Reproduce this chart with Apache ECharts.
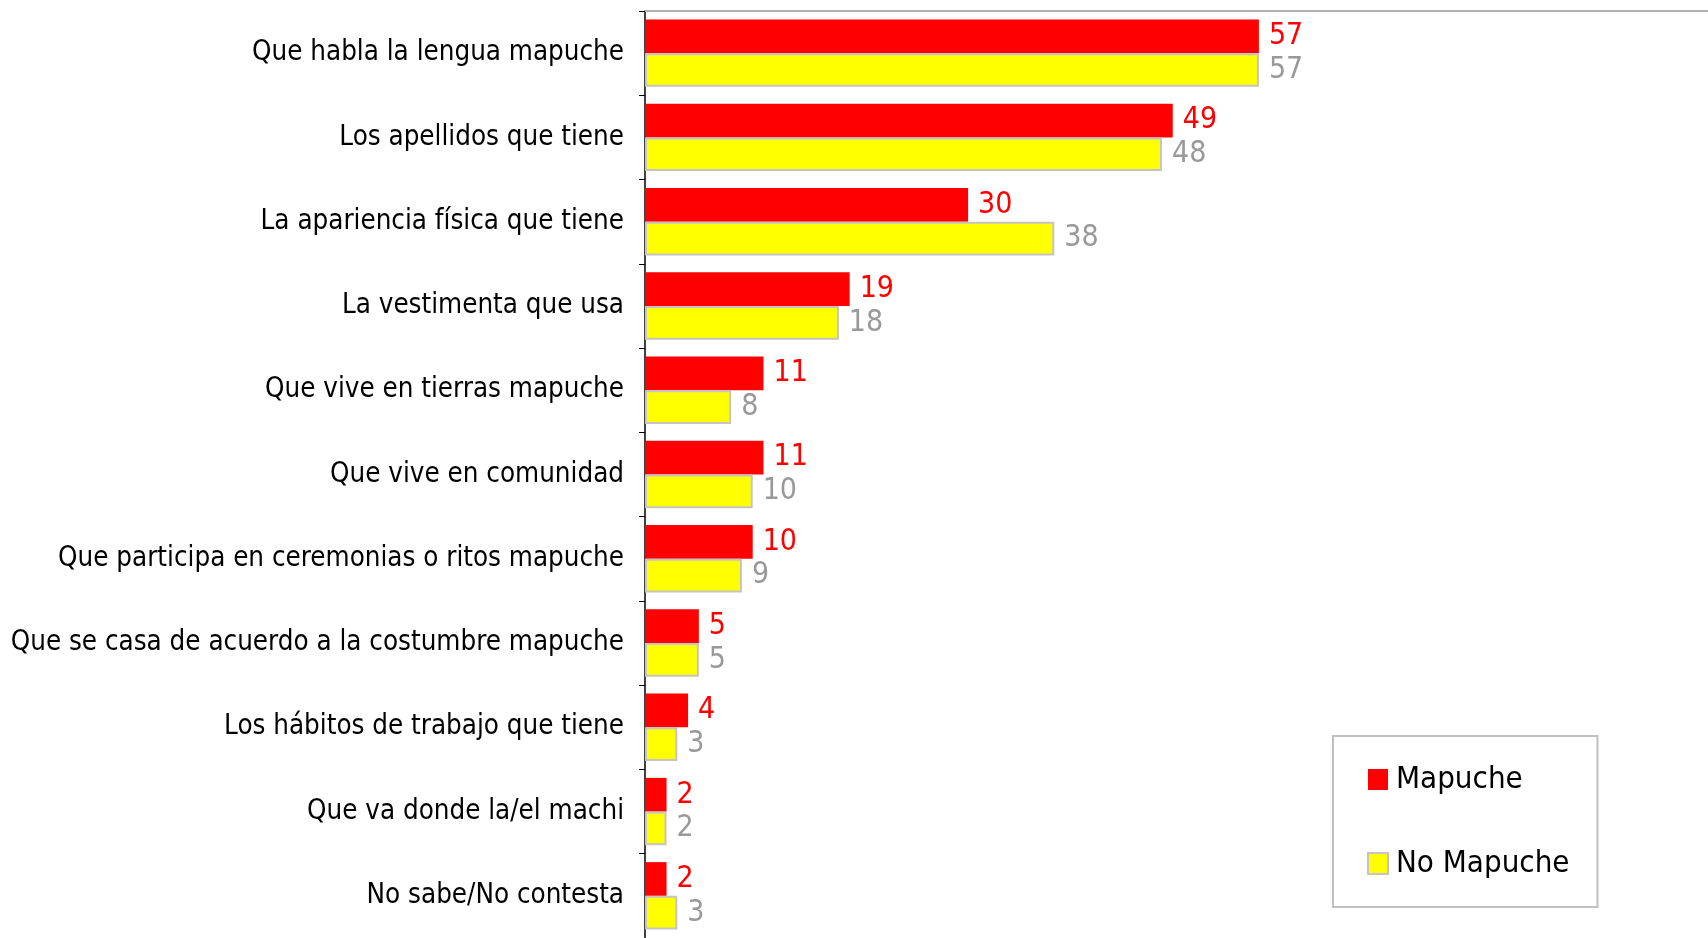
<!DOCTYPE html>
<html>
<head>
<meta charset="utf-8">
<script src="https://cdn.jsdelivr.net/npm/echarts@6/dist/echarts.min.js"></script>
<style>
  html, body { margin: 0; padding: 0; background: #fff; }
  #main { width: 1708px; height: 938px; }
</style>
</head>
<body>
<div id="main"></div>
<script>
// categorias, de arriba hacia abajo
var categories = [
  'Que habla la lengua mapuche',
  'Los apellidos que tiene',
  'La apariencia física que tiene',
  'La vestimenta que usa',
  'Que vive en tierras mapuche',
  'Que vive en comunidad',
  'Que participa en ceremonias o ritos mapuche',
  'Que se casa de acuerdo a la costumbre mapuche',
  'Los hábitos de trabajo que tiene',
  'Que va donde la/el machi',
  'No sabe/No contesta'
];
var mapuche = [57, 49, 30, 19, 11, 11, 10, 5, 4, 2, 2];
var noMapuche = [57, 48, 38, 18, 8, 10, 9, 5, 3, 2, 3];

var font = '"DejaVu Sans Condensed", "Liberation Sans Narrow", "DejaVu Sans", sans-serif';

var chart = echarts.init(document.getElementById('main'));

var option = {
  backgroundColor: '#fff',
  animation: false,
  textStyle: { fontFamily: font },
  grid: {
    left: 645,
    top: 11,
    right: 0,
    height: 933,
    containLabel: false
  },
  legend: {
    orient: 'vertical',
    left: 1333,
    top: 736,
    padding: [28, 28, 28, 34],
    icon: 'rect',
    itemWidth: 20,
    itemHeight: 21,
    itemGap: 53,
    backgroundColor: '#fff',
    borderColor: '#c0c0c0',
    borderWidth: 2,
    textStyle: { fontSize: 31, color: '#000', fontFamily: font, padding: [0, 0, 0, 3] },
    data: ['Mapuche', 'No Mapuche']
  },
  xAxis: {
    type: 'value',
    position: 'top',
    min: 0,
    max: 98.7,
    axisLine: { show: true, lineStyle: { color: '#b0b0b0', width: 2 } },
    axisTick: { show: false },
    axisLabel: { show: false },
    splitLine: { show: false }
  },
  yAxis: {
    type: 'category',
    inverse: true,
    data: categories,
    axisLine: { show: true, lineStyle: { color: '#000', width: 1.5 } },
    axisTick: { show: true, length: 6, lineStyle: { color: '#000' } },
    axisLabel: { fontSize: 27.5, color: '#000', margin: 21, fontFamily: font }
  },
  series: [
    {
      name: 'Mapuche',
      type: 'bar',
      data: mapuche,
      barGap: '0%',
      barCategoryGap: '20%',
      itemStyle: { color: '#ff0000' },
      label: {
        show: true,
        position: 'right',
        distance: 10,
        color: '#ff0000',
        fontSize: 30,
        fontFamily: font
      }
    },
    {
      name: 'No Mapuche',
      type: 'bar',
      data: noMapuche,
      barGap: '0%',
      barCategoryGap: '20%',
      itemStyle: { color: '#ffff00', borderColor: '#c4c4c4', borderWidth: 2 },
      label: {
        show: true,
        position: 'right',
        distance: 10,
        color: '#999999',
        fontSize: 30,
        fontFamily: font
      }
    }
  ]
};

chart.setOption(option);
</script>
</body>
</html>
